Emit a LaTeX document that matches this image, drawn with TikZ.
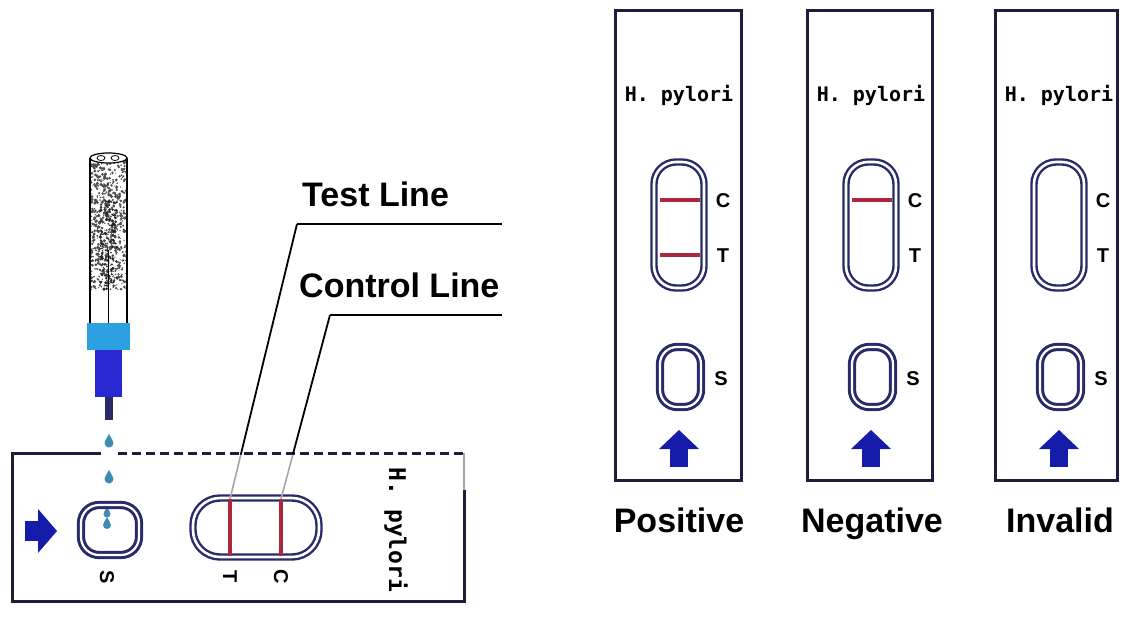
\documentclass[tikz,border=0pt]{standalone}
\usepackage{fontspec}
\setmainfont{Liberation Sans}
\newfontfamily\stripmono{DejaVu Sans Mono}
\definecolor{navy}{RGB}{40,42,105}
\definecolor{stripline}{RGB}{30,30,60}
\definecolor{arrowblue}{RGB}{22,28,170}
\definecolor{bandred}{RGB}{170,40,60}
\definecolor{capblue}{RGB}{45,160,225}
\definecolor{bodyblue}{RGB}{40,40,210}
\definecolor{dropblue}{RGB}{60,140,180}
\begin{document}
\begin{tikzpicture}[x=1pt,y=-1pt,
  strip/.style={draw=stripline,line width=3pt},
  pad/.style={draw=navy,line width=2.4pt,double=white,double distance=2.6pt,inner sep=0pt,outer sep=0pt},
  spad/.style={pad,line width=3pt,double distance=2.2pt},
  band/.style={draw=bandred,line width=3.5pt},
  lbl/.style={font=\bfseries\fontsize{20}{20}\selectfont,inner sep=0pt},
  big/.style={font=\bfseries\fontsize{34}{34}\selectfont,inner sep=0pt},
  mono/.style={font=\stripmono\bfseries\fontsize{20}{20}\selectfont,inner sep=0pt},
  leader/.style={draw=black,line width=2.4pt},
  faint/.style={draw=black!35,line width=1.6pt},
  drop/.style={fill=dropblue}]
\useasboundingbox (0,0) rectangle (1127,635);

% ---------- swab tube ----------
\begin{scope}
  \clip (90,160) rectangle (127,290);
  \pgfmathsetseed{11}
  \foreach \k in {1,...,650}{
    \fill[black!70] (90+37*rnd,160+130*rnd) circle (0.5+1.2*rnd);
  }
  \pgfmathsetseed{5}
  \foreach \k in {1,...,120}{
    \fill[black!85] (100+17*rnd,200+90*rnd) circle (0.6+1.2*rnd);
  }
\end{scope}
\draw[line width=1.2pt] (90,158) -- (90,323) (127,158) -- (127,323);
\draw[line width=1.2pt,fill=white] (108.5,158) ellipse (18.5 and 5);
\draw[line width=0.8pt] (101,158) ellipse (4 and 2.5) (115,158) ellipse (4 and 2.5);
\draw[line width=1.6pt] (108.5,250) -- (108.5,323);
\fill[capblue] (87,323) rectangle (130,350);
\fill[bodyblue] (95,350) rectangle (122,397);
\fill[navy] (105,397) rectangle (113,420);

% ---------- horizontal cassette ----------
\coordinate (LTL) at (12,453);
\coordinate (LTR) at (464,453);
\coordinate (LBL) at (12,601);
\coordinate (LBR) at (464,601);
\draw[strip] (101,453) -- (LTL) -- (LBL) -- (LBR) -- (464,490);
\draw[strip,dash pattern=on 9pt off 5pt] (118,453) -- (LTR);
\draw[faint] (464,490) -- (LTR);

% drops falling into the sample well
\foreach \dx/\dy/\r in {109/443/4.5, 109/479/4.5, 107/514/3.5, 107/525/4}{
  \fill[drop] (\dx,\dy) circle (\r);
  \fill[drop] (\dx-0.8*\r,\dy-0.6*\r) -- (\dx,\dy-2*\r) -- (\dx+0.8*\r,\dy-0.6*\r) -- cycle;
}

\node[spad,minimum width=58pt,minimum height=50pt,rounded corners=18pt] (sL) at (110,530) {};
\node[pad,minimum width=126pt,minimum height=59pt,rounded corners=27pt] (tL) at (256,527.5) {};

% coloured bands
\coordinate (Ttop) at (230,499);
\coordinate (Tbot) at (230,556);
\coordinate (Ctop) at (281,499);
\coordinate (Cbot) at (281,556);
\draw[band] (Ttop) -- (Tbot);
\draw[band] (Ctop) -- (Cbot);

% flow arrow
\fill[arrowblue] (25,521) rectangle (39,541);
\fill[arrowblue] (38,509) -- (57,531) -- (38,553) -- cycle;

% window letters
\node[lbl,rotate=-90] (sLbl) at (107,577) {S};
\node[lbl,rotate=-90] (tLbl) at (230,577) {T};
\node[lbl,rotate=-90] (cLbl) at (281,577) {C};
\node[mono,rotate=-90,font=\stripmono\bfseries\fontsize{23}{23}\selectfont] (hpL) at (396,530) {H. pylori};

% leader lines
\coordinate (Tknee) at (297,224);
\coordinate (Tend) at (502,224);
\coordinate (Cknee) at (330,315);
\coordinate (Cend) at (502,315);
\path (Ttop) -- (Tknee) coordinate[pos=0.161] (Tcross);
\path (Ctop) -- (Cknee) coordinate[pos=0.242] (Ccross);
\draw[faint] (Ttop) -- (Tcross);
\draw[faint] (Ctop) -- (Ccross);
\draw[leader,line width=1.8pt] (Tcross) -- (Tknee);
\draw[leader] (Tknee) -- (Tend);
\draw[leader,line width=1.8pt] (Ccross) -- (Cknee);
\draw[leader] (Cknee) -- (Cend);
\node[big,anchor=base west] (testLbl) at (302,206) {Test Line};
\node[big,anchor=base west] (ctrlLbl) at (299,297) {Control Line};

% ---------- vertical cassettes ----------
\foreach \dx/\w/\n in {0/126/1,192/125/2,380/122/3}{
  \begin{scope}[shift={(\dx,0)}]
    \draw[strip] (615,10) rectangle (615+\w,480);
    \node[mono] (hp\n) at (679,95) {H. pylori};
    \node[pad,minimum width=50pt,minimum height=126pt,rounded corners=22pt] (win\n) at (679,225) {};
    \node[spad,minimum width=41pt,minimum height=60pt,rounded corners=17pt] (sw\n) at (680.5,377) {};
    \node[lbl] (c\n) at (723,201) {C};
    \node[lbl] (t\n) at (723,256) {T};
    \node[lbl] (s\n) at (721,379) {S};
    \fill[arrowblue] (659,449) -- (679,430) -- (699,449) -- cycle;
    \fill[arrowblue] (670,448) rectangle (688,467);
  \end{scope}
}
\draw[band] (660,200) -- (700,200);
\draw[band] (660,255) -- (700,255);
\draw[band] (852,200) -- (892,200);

\node[big,anchor=base] (posLbl) at (679,532) {Positive};
\node[big,anchor=base] (negLbl) at (872,532) {Negative};
\node[big,anchor=base] (invLbl) at (1060,532) {Invalid};
\end{tikzpicture}
\end{document}
